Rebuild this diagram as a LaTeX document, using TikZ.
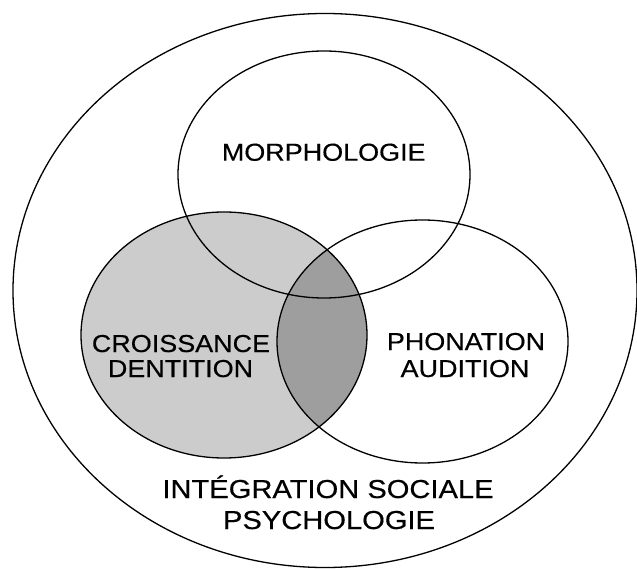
\documentclass[tikz,border=0pt]{standalone}
\usepackage{fontspec}
\setmainfont{Liberation Sans}[FakeStretch=1.1,FakeBold=0.4]
\newfontfamily\bigfont{Liberation Sans}[FakeStretch=1.12,FakeBold=0.4]
\begin{document}
\begin{tikzpicture}[x=1pt,y=-1pt,
  ring/.style={draw=black,line width=1.3pt},
  lbl/.style={anchor=base,inner sep=0pt,font=\fontsize{24.5}{28}\selectfont},
  lblbig/.style={anchor=base,inner sep=0pt,font=\bigfont\fontsize{26}{30}\selectfont}]
\useasboundingbox (0,0) rectangle (637,569);
\fill[white] (0,0) rectangle (637,569);
% shading
\fill[black!20] (224,335) ellipse [x radius=143, y radius=123];
\begin{scope}
  \clip (224,335) ellipse [x radius=143, y radius=123];
  \fill[black!38] (422.5,341.5) ellipse [x radius=145.5, y radius=121.5];
\end{scope}
% outlines
\draw[ring] (325,290.5) ellipse [x radius=312, y radius=277];
\draw[ring] (324,174.5) ellipse [x radius=146, y radius=123.5];
\draw[ring] (224,335) ellipse [x radius=143, y radius=123];
\draw[ring] (422.5,341.5) ellipse [x radius=145.5, y radius=121.5];
% labels
\node[lbl] (morph) at (323.7,160.7) {MORPHOLOGIE};
\node[lbl] (crois) at (181,352) {CROISSANCE};
\node[lbl] (dent) at (180.5,377) {DENTITION};
\node[lbl] (phon) at (466,350) {PHONATION};
\node[lbl] (aud) at (465,377) {AUDITION};
\node[lblbig] (integ) at (328,498) {INTÉGRATION SOCIALE};
\node[lblbig] (psy) at (329,529) {PSYCHOLOGIE};
\end{tikzpicture}
\end{document}
